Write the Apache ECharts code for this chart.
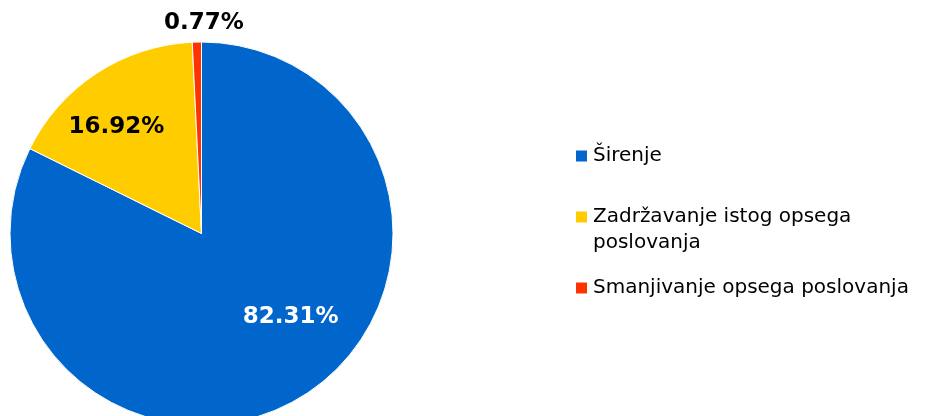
<!DOCTYPE html>
<html>
<head>
<meta charset="utf-8">
<script src="https://cdn.jsdelivr.net/npm/echarts@6/dist/echarts.min.js"></script>
<style>
  html, body { margin: 0; padding: 0; background: #fff; }
  #chart { width: 935px; height: 416px; }
</style>
</head>
<body>
<div id="chart"></div>
<script>
// podaci
const categories = ['Širenje', 'Zadržavanje istog opsega poslovanja', 'Smanjivanje opsega poslovanja'];
const shares = [82.31, 16.92, 0.77];
const colors = ['#0066CC', '#FFCC00', '#FF3300'];
const labelColors = ['#fff', '#000', '#000'];
// pomak natpisa (Excel ih ne stavlja točno na sredinu)
const labelShift = [[37, 0], [-31, -24], [52, -13]];
const legendTops = [143, 178, 275];

const chart = echarts.init(document.getElementById('chart'), null, { renderer: 'canvas' });

const pieData = categories.map((name, i) => ({
  name: name,
  value: shares[i],
  itemStyle: { color: colors[i] },
  label: {
    position: i === 2 ? 'outside' : 'inside',
    color: labelColors[i]
  }
}));

const legendText = {
  'Zadržavanje istog opsega poslovanja': ' \nZadržavanje istog opsega\nposlovanja'
};

const legends = categories.map((name, i) => ({
  orient: 'vertical',
  left: 576,
  top: legendTops[i],
  padding: 0,
  icon: 'rect',
  itemWidth: 11,
  itemHeight: 11,
  itemStyle: { borderWidth: 0 },
  data: [name],
  formatter: n => legendText[n] || n,
  textStyle: {
    fontFamily: 'DejaVu Sans',
    fontSize: 20,
    lineHeight: 26,
    color: '#000',
    padding: [0, 0, 0, 1]
  }
}));

chart.setOption({
  backgroundColor: '#fff',
  animation: false,
  legend: legends,
  series: [{
    type: 'pie',
    center: [201.5, 233.5],
    radius: 191.5,
    startAngle: 90,
    clockwise: true,
    data: pieData,
    itemStyle: { borderColor: '#fff', borderWidth: 1 },
    label: {
      show: true,
      formatter: p => p.value.toFixed(2) + '%',
      fontFamily: 'DejaVu Sans',
      fontWeight: 'bold',
      fontSize: 23
    },
    labelLine: { show: false, length: 6, length2: 0 },
    labelLayout: p => ({ dx: labelShift[p.dataIndex][0], dy: labelShift[p.dataIndex][1] })
  }]
});
</script>
</body>
</html>
